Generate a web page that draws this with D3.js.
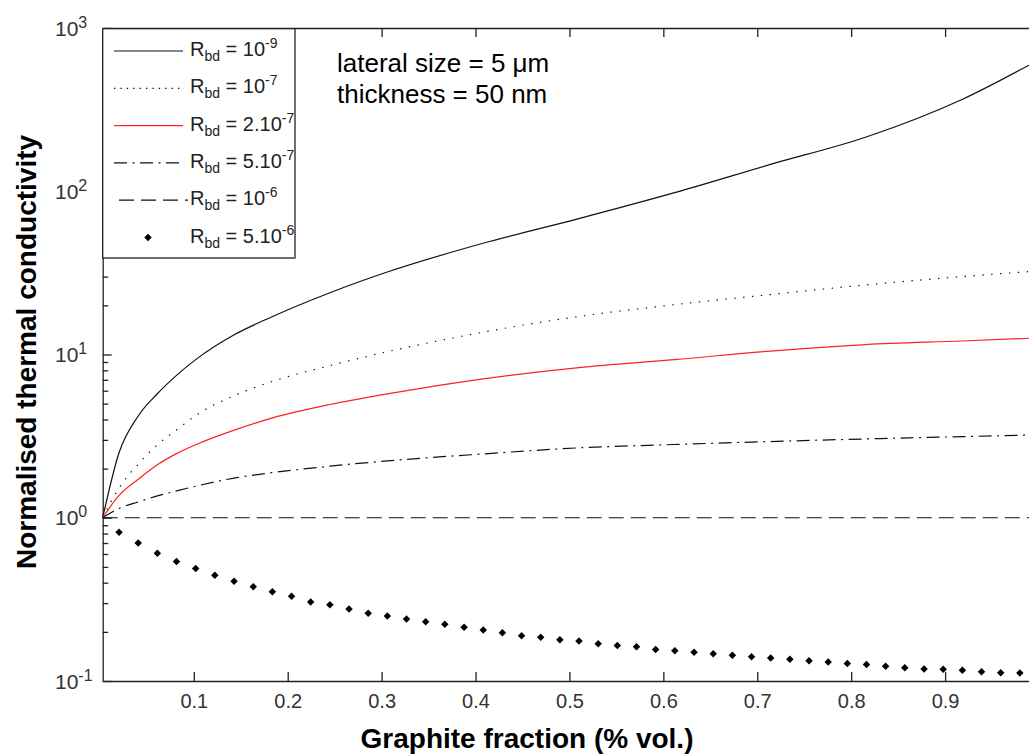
<!DOCTYPE html>
<html>
<head>
<meta charset="utf-8">
<script src="https://cdn.jsdelivr.net/npm/d3@7"></script>
<style>
  body { margin: 0; background: #fff; }
  svg text { font-family: Arial, "Liberation Sans", Helvetica, sans-serif; }
</style>
</head>
<body>
<div id="chart"></div>
<script>
// graphite fraction where the curves were sampled
var fraction = [0.003, 0.0204, 0.0408, 0.0612, 0.0816, 0.102, 0.143, 0.184, 0.245, 0.306, 0.408, 0.51, 0.612, 0.714, 0.816, 0.918, 1.0];

// normalised thermal conductivity, one array per boundary resistance
var rbd1e9 = [1, 2.5, 4.2, 5.75, 7.45, 9.3, 13.2, 17.1, 23.9, 32, 48, 68, 98, 146, 215, 365, 640];
var rbd1e7 = [1, 1.52, 2.13, 2.8, 3.45, 4.23, 5.6, 6.85, 8.55, 10.4, 13.7, 17.1, 20.2, 23.3, 26.7, 30.0, 32.5];
var rbd2e7 = [1, 1.37, 1.72, 2.11, 2.47, 2.8, 3.44, 4.09, 4.94, 5.74, 7.09, 8.32, 9.3, 10.5, 11.5, 12.1, 12.65];
var rbd5e7 = [1, 1.14, 1.25, 1.36, 1.46, 1.56, 1.75, 1.89, 2.07, 2.23, 2.46, 2.68, 2.81, 2.93, 3.04, 3.14, 3.22];
var rbd1e6 = [1, 1, 1, 1, 1, 1, 1, 1, 1, 1, 1, 1, 1, 1, 1, 1, 1];

// R_bd = 5.10^-6 is plotted with markers only
var markerFraction = [0.0204, 0.0408, 0.0612, 0.0816, 0.1020, 0.1224, 0.1429, 0.1633, 0.1837, 0.2041,
  0.2245, 0.2449, 0.2653, 0.2857, 0.3061, 0.3265, 0.3469, 0.3673, 0.3878, 0.4082,
  0.4286, 0.4490, 0.4694, 0.4898, 0.5102, 0.5306, 0.5510, 0.5714, 0.5918, 0.6122,
  0.6327, 0.6531, 0.6735, 0.6939, 0.7143, 0.7347, 0.7551, 0.7755, 0.7959, 0.8163,
  0.8367, 0.8571, 0.8776, 0.8980, 0.9184, 0.9388, 0.9592, 0.9796];
var rbd5e6 = [0.815, 0.70, 0.607, 0.54, 0.488, 0.445, 0.408, 0.378, 0.352, 0.33,
  0.305, 0.293, 0.276, 0.26, 0.25, 0.24, 0.231, 0.2225, 0.2133, 0.205,
  0.1977, 0.1895, 0.1852, 0.179, 0.1758, 0.1692, 0.165, 0.162, 0.156, 0.153,
  0.15, 0.147, 0.1437, 0.141, 0.1384, 0.136, 0.133, 0.1306, 0.128, 0.126,
  0.123, 0.1207, 0.1184, 0.118, 0.1163, 0.114, 0.1125, 0.112];

var legendMantissa = ['10', '10', '2.10', '5.10', '10', '5.10'];
var legendExponent = ['-9', '-7', '-7', '-7', '-6', '-6'];

var xTicks = [0.1, 0.2, 0.3, 0.4, 0.5, 0.6, 0.7, 0.8, 0.9];
var yMajor = [0.1, 1, 10, 100, 1000];
var yExponent = ['-1', '0', '1', '2', '3'];

var W = 1029, H = 754;
var plot = { left: 102.7, right: 1039, top: 28, bottom: 681 };

var x = d3.scaleLinear().domain([0.003, 1]).range([plot.left, plot.right]);
var y = d3.scaleLog().domain([0.1, 1000]).range([plot.bottom, plot.top]);

var svg = d3.select('#chart').append('svg')
  .attr('width', W)
  .attr('height', H);

var axisColor = '#222';

// minor ticks on the log axis
var yMinor = [];
yMajor.slice(0, -1).forEach(function(v) {
  for (var m = 2; m <= 9; m++) yMinor.push(v * m);
});

var axisBottomG = svg.append('g')
  .attr('transform', 'translate(0,' + plot.bottom + ')')
  .call(d3.axisBottom(x).tickValues(xTicks).tickSize(-9).tickSizeOuter(0)
    .tickPadding(13).tickFormat(d3.format('.1f')));
var axisTopG = svg.append('g')
  .attr('transform', 'translate(0,' + plot.top + ')')
  .call(d3.axisTop(x).tickValues(xTicks).tickSize(-9).tickSizeOuter(0).tickFormat(''));
var axisLeftG = svg.append('g')
  .attr('transform', 'translate(' + plot.left + ',0)')
  .call(d3.axisLeft(y).tickValues(yMajor).tickSize(-9).tickSizeOuter(0).tickFormat(''));
var axisMinorG = svg.append('g')
  .attr('transform', 'translate(' + plot.left + ',0)')
  .call(d3.axisLeft(y).tickValues(yMinor).tickSize(-5.5).tickSizeOuter(0).tickFormat(''));
axisMinorG.select('.domain').remove();

[axisBottomG, axisTopG, axisLeftG, axisMinorG].forEach(function(g) {
  g.selectAll('path, line').attr('stroke', axisColor).attr('stroke-width', 1.3);
});
axisBottomG.attr('font-family', null).attr('font-size', null);
axisBottomG.selectAll('text')
  .attr('font-size', 20)
  .attr('fill', '#333');

// 10^n labels
var yLabels = svg.append('g').selectAll('text')
  .data(yMajor)
  .enter()
  .append('text')
  .attr('x', 55)
  .attr('y', function(d) { return y(d) + 7.5; })
  .attr('font-size', 21)
  .attr('fill', '#333');
yLabels.append('tspan').text('10');
yLabels.append('tspan')
  .attr('font-size', 16)
  .attr('dy', -8)
  .text(function(d, i) { return yExponent[i]; });

// curves
var line = d3.line()
  .x(function(d) { return x(d[0]); })
  .y(function(d) { return y(d[1]); })
  .curve(d3.curveMonotoneX);

var series = [
  { values: rbd1e9, color: '#111', dash: null },
  { values: rbd1e7, color: '#111', dash: '1.4,7.5', legendDash: '1.4,5' },
  { values: rbd2e7, color: '#ff2020', dash: null },
  { values: rbd5e7, color: '#111', dash: '13,5.5,2,5.5' },
  { values: rbd1e6, color: '#111', dash: '15,7' }
];

var curves = svg.append('g');
series.forEach(function(s) {
  curves.append('path')
    .datum(fraction.map(function(f, i) { return [f, s.values[i]]; }))
    .attr('d', line)
    .attr('fill', 'none')
    .attr('stroke', s.color)
    .attr('stroke-width', 1.2)
    .attr('stroke-dasharray', s.dash);
});

var diamond = d3.symbol().type(d3.symbolSquare).size(28);
svg.append('g').selectAll('path')
  .data(markerFraction)
  .enter()
  .append('path')
  .attr('d', diamond)
  .attr('fill', '#000')
  .attr('transform', function(d, i) {
    return 'translate(' + x(d) + ',' + y(rbd5e6[i]) + ') rotate(45)';
  });

// legend
var legend = svg.append('g');
legend.append('rect')
  .attr('x', plot.left)
  .attr('y', plot.top + 0.7)
  .attr('width', 192.3)
  .attr('height', 229.3)
  .attr('fill', '#fff')
  .attr('stroke', axisColor)
  .attr('stroke-width', 1.3);

legendMantissa.forEach(function(m, i) {
  var ly = 51 + i * 37.3;
  if (i < series.length) {
    var s = series[i];
    legend.append('line')
      .attr('x1', i == 4 ? 119 : 114)
      .attr('x2', i == 4 ? 188 : 183)
      .attr('y1', ly)
      .attr('y2', ly)
      .attr('stroke', s.color)
      .attr('stroke-width', 1.2)
      .attr('stroke-dasharray', s.legendDash || s.dash);
  } else {
    legend.append('path')
      .attr('d', diamond)
      .attr('fill', '#000')
      .attr('transform', 'translate(148,' + ly + ') rotate(45)');
  }
  var t = legend.append('text')
    .attr('x', 190)
    .attr('y', ly + 5)
    .attr('font-size', 20)
    .attr('fill', '#222');
  t.append('tspan').text('R');
  t.append('tspan').attr('font-size', 14).attr('dy', 5).text('bd');
  t.append('tspan').attr('dy', -5).text(' = ' + m);
  t.append('tspan').attr('font-size', 14).attr('dy', -8).text(legendExponent[i]);
});

// annotation
svg.append('text')
  .attr('x', 337).attr('y', 72)
  .attr('font-size', 26)
  .text('lateral size = 5 \u03bcm');
svg.append('text')
  .attr('x', 337).attr('y', 103)
  .attr('font-size', 26)
  .text('thickness = 50 nm');

// axis titles
svg.append('text')
  .attr('x', 527)
  .attr('y', 748)
  .attr('text-anchor', 'middle')
  .attr('font-size', 28)
  .attr('font-weight', 'bold')
  .text('Graphite fraction (% vol.)');
svg.append('text')
  .attr('transform', 'translate(36,352) rotate(-90)')
  .attr('text-anchor', 'middle')
  .attr('font-size', 28)
  .attr('font-weight', 'bold')
  .text('Normalised thermal conductivity');
</script>
</body>
</html>
